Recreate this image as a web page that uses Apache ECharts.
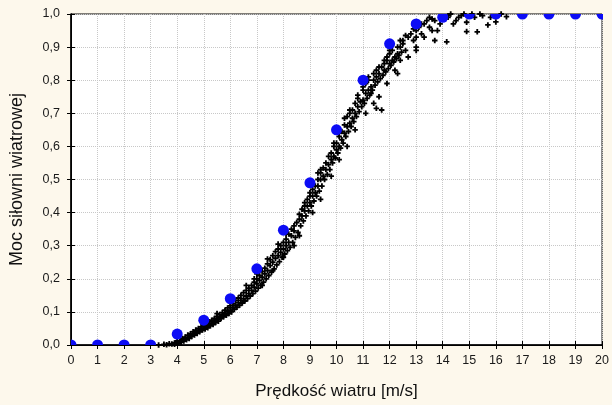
<!DOCTYPE html>
<html><head><meta charset="utf-8">
<script src="https://cdn.jsdelivr.net/npm/echarts@6/dist/echarts.min.js"></script>
<style>html,body{margin:0;padding:0;background:#fdf8ec;}#c{width:612px;height:405px;}</style>
</head><body><div id="c"></div>
<script>
const xTitle = 'Prędkość wiatru [m/s]';
const yTitle = 'Moc siłowni wiatrowej';
const curveSpeed = [0,1,2,3,4,5,6,7,8,9,10,11,12,13,14,15,16,17,18,19,20];
const curvePower = [0,0,0,0,0.033,0.075,0.14,0.23,0.347,0.49,0.65,0.80,0.91,0.97,0.99,1.0,1.0,1.0,1.0,1.0,1.0];
const measSpeed = [3.3,3.5,3.7,3.8,3.9,4.0,4.0,4.1,4.2,4.2,4.3,4.3,4.4,4.4,4.5,4.5,4.6,4.6,4.7,4.7,4.8,4.8,4.9,4.9,5.0,5.0,5.1,5.1,5.2,5.2,5.3,5.3,5.4,5.4,5.5,5.5,5.6,5.6,5.7,5.7,5.8,5.8,5.9,5.9,6.0,6.0,6.0,6.1,6.1,6.2,6.2,6.3,6.3,6.4,6.4,6.5,6.5,6.6,6.6,6.7,6.7,6.8,6.8,6.9,6.9,7.0,7.0,7.0,7.1,7.1,7.2,7.2,7.3,7.3,7.4,7.4,7.5,7.5,7.6,7.6,7.7,7.7,7.8,7.8,7.9,7.9,8.0,8.0,8.1,8.1,8.2,8.2,8.3,8.3,8.4,8.4,8.6,8.6,8.7,8.7,8.8,8.8,8.9,8.9,9.0,9.0,9.1,9.1,9.2,9.2,9.3,9.3,9.4,9.4,9.5,9.5,9.6,9.6,9.7,9.8,9.8,9.9,9.9,10.0,10.0,10.1,10.1,10.2,10.2,10.3,10.3,10.4,10.4,10.5,10.5,10.6,10.6,10.7,10.7,10.8,10.8,10.9,11.0,11.0,11.1,11.1,11.2,11.2,11.3,11.3,11.4,11.4,11.5,11.5,11.6,11.6,11.7,11.7,11.8,11.8,11.9,11.9,12.0,12.0,12.1,12.1,12.2,12.2,12.3,12.3,12.4,12.4,12.5,12.5,12.6,12.7,12.8,12.9,13.0,13.0,13.0,13.1,13.2,13.3,13.4,13.5,13.5,13.7,13.7,13.8,13.9,14.15,14.2,14.3,14.5,14.6,14.8,14.9,15.2,15.3,15.4,15.7,15.8,16.0,16.4,
  3.6,3.9,4.05,4.15,4.25,4.35,4.45,4.55,4.65,4.75,4.85,4.95,5.05,5.15,5.25,5.35,5.45,5.55,5.65,5.75,5.85,5.95,6.05,6.15,6.25,6.35,6.45,6.55,6.65,6.75,6.85,6.95,7.05,7.15,7.25,7.35,7.45,7.55,7.65,7.75,7.85,7.95,8.05,8.15,8.25,8.35,8.45,8.55,8.65,8.75,8.85,8.95,9.05,9.15,9.25,9.35,9.45,9.55,9.65,9.75,9.85,9.95,10.05,10.15,10.25,10.35,10.45,10.55,10.65,10.75,10.85,10.95,11.05,11.15,11.25,11.35,11.45,11.55,11.65,11.75,11.85,11.95,12.05,12.15,12.25,12.35,12.45,
  5.5,6.0,6.6,6.9,7.0,7.4,7.8,8.1,8.5,8.8,9.0,9.3,9.4,9.7,9.9,10.1,10.3,10.5,10.8,11.0,11.2,11.5,11.8,12.0,12.4,12.6,12.9,13.2,13.6,14.2,14.7,15.1,15.5,16.2,
  7.2,7.6,8.0,8.4,8.6,9.1,9.4,9.8,10.1,10.4,10.7,11.1,11.4,11.6,11.9,12.3,12.7,13.0,13.3,13.6,14.4,14.9];
const measPower = [0.0,0.002,0.004,0.003,0.006,0.008,0.012,0.01,0.015,0.02,0.018,0.024,0.022,0.03,0.028,0.034,0.033,0.04,0.038,0.045,0.042,0.05,0.048,0.055,0.05,0.058,0.055,0.064,0.06,0.07,0.066,0.075,0.07,0.08,0.078,0.086,0.082,0.092,0.088,0.098,0.095,0.105,0.1,0.112,0.105,0.118,0.128,0.112,0.125,0.12,0.135,0.128,0.142,0.135,0.15,0.14,0.158,0.148,0.165,0.155,0.172,0.165,0.18,0.175,0.19,0.185,0.2,0.215,0.195,0.21,0.205,0.222,0.215,0.232,0.225,0.245,0.24,0.258,0.25,0.27,0.262,0.282,0.27,0.29,0.28,0.3,0.29,0.31,0.3,0.32,0.31,0.335,0.33,0.35,0.345,0.36,0.38,0.395,0.39,0.41,0.405,0.42,0.42,0.44,0.43,0.45,0.45,0.47,0.46,0.48,0.48,0.5,0.5,0.52,0.51,0.535,0.53,0.55,0.545,0.56,0.58,0.57,0.6,0.59,0.61,0.6,0.63,0.62,0.645,0.64,0.665,0.66,0.69,0.67,0.7,0.685,0.71,0.7,0.73,0.72,0.745,0.735,0.74,0.77,0.76,0.79,0.77,0.8,0.78,0.76,0.8,0.82,0.81,0.715,0.82,0.84,0.71,0.84,0.85,0.83,0.86,0.87,0.85,0.88,0.86,0.89,0.87,0.83,0.88,0.9,0.86,0.9,0.91,0.92,0.89,0.93,0.94,0.92,0.93,0.95,0.89,0.96,0.94,0.97,0.98,0.96,0.99,0.92,0.98,0.95,0.97,0.916,0.99,1.0,0.98,0.99,1.0,0.947,0.99,0.946,1.0,0.967,0.99,0.976,0.992,
  0.001,0.002,0.005,0.008,0.012,0.016,0.02,0.026,0.03,0.035,0.04,0.045,0.048,0.052,0.058,0.062,0.068,0.072,0.08,0.085,0.09,0.095,0.1,0.108,0.114,0.12,0.127,0.133,0.14,0.148,0.155,0.163,0.172,0.18,0.19,0.2,0.21,0.22,0.23,0.242,0.252,0.265,0.275,0.285,0.295,0.31,0.325,0.34,0.36,0.375,0.39,0.405,0.42,0.435,0.45,0.465,0.48,0.5,0.515,0.53,0.55,0.565,0.58,0.595,0.61,0.63,0.645,0.66,0.675,0.69,0.705,0.72,0.73,0.745,0.755,0.77,0.785,0.795,0.805,0.815,0.825,0.835,0.845,0.855,0.865,0.875,0.885,
  0.095,0.135,0.18,0.2,0.225,0.26,0.305,0.335,0.37,0.43,0.46,0.52,0.53,0.57,0.61,0.64,0.685,0.71,0.755,0.78,0.81,0.83,0.86,0.89,0.92,0.935,0.955,0.97,0.985,0.995,0.995,1.0,0.995,1.0,
  0.18,0.225,0.265,0.3,0.33,0.4,0.44,0.51,0.56,0.6,0.65,0.7,0.73,0.75,0.79,0.82,0.87,0.9,0.93,0.95,0.97,0.975];
const xTicks = [0,1,2,3,4,5,6,7,8,9,10,11,12,13,14,15,16,17,18,19,20];
const yTicks = ['0,0','0,1','0,2','0,3','0,4','0,5','0,6','0,7','0,8','0,9','1,0'];

const chart = echarts.init(document.getElementById('c'), null, {renderer:'canvas'});
const plus = 'path://M2,0H4V2H6V4H4V6H2V4H0V2H2Z';
const font = 'Liberation Sans, Arial, sans-serif';
const measData = measSpeed.map((v,i)=>[v, measPower[i]]);
const curveData = curveSpeed.map((v,i)=>[v, curvePower[i]]);
const gridLine = {show:true, lineStyle:{color:'#c8c8c8', type:'dotted', width:1}};
chart.setOption({
  backgroundColor:'#fdf8ec',
  animation:false,
  grid:{left:66.5, right:7, top:14, bottom:59, show:true, backgroundColor:'#ffffff', borderColor:'#000', borderWidth:1},
  xAxis:[{
    type:'value', min:0, max:20, interval:1,
    name:xTitle, nameLocation:'middle', nameGap:38,
    nameTextStyle:{fontFamily:font, fontSize:17, color:'#111'},
    axisLine:{show:true, lineStyle:{color:'#000', width:1.5}},
    axisTick:{show:true, inside:true, length:4, lineStyle:{color:'#000'}},
    axisLabel:{fontFamily:font, fontSize:12.5, color:'#1a1a1a', margin:9, formatter:(v)=>String(xTicks[Math.round(v)])},
    splitLine:gridLine
  },{
    type:'value', min:0, max:20, interval:1, position:'top',
    axisLine:{show:true, lineStyle:{color:'#000'}},
    axisTick:{show:true, inside:true, length:4, lineStyle:{color:'#000'}},
    axisLabel:{show:false}, splitLine:{show:false}
  }],
  yAxis:[{
    type:'value', min:0, max:1, interval:0.1,
    name:yTitle, nameLocation:'middle', nameGap:45, nameRotate:90,
    nameTextStyle:{fontFamily:font, fontSize:18, color:'#111'},
    axisLine:{show:true, lineStyle:{color:'#000', width:1.5}},
    axisTick:{show:true, inside:true, length:4, lineStyle:{color:'#000'}},
    axisLabel:{fontFamily:font, fontSize:12.5, color:'#1a1a1a', margin:11, formatter:(v)=>yTicks[Math.round(v*10)]},
    splitLine:gridLine
  },{
    type:'value', min:0, max:1, interval:0.1, position:'right',
    axisLine:{show:true, lineStyle:{color:'#000'}},
    axisTick:{show:true, inside:true, length:4, lineStyle:{color:'#000'}},
    axisLabel:{show:false}, splitLine:{show:false}
  }],
  series:[{
    type:'scatter', data:measData, symbol:plus, symbolSize:5.5, clip:true,
    itemStyle:{color:'#000', opacity:1}, z:2
  },{
    type:'custom', data:curveData, clip:true, z:3,
    renderItem:(params, api)=>{
      const p = api.coord([api.value(0), api.value(1)]);
      return {type:'circle', shape:{cx:p[0], cy:p[1], r:5.5}, style:{fill:'#0c0cf5'}};
    }
  }]
});
</script></body></html>
